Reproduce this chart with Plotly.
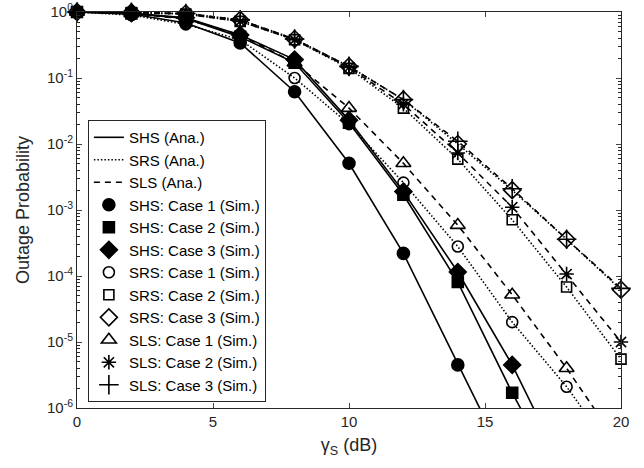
import plotly.graph_objects as go

# ---------------- data ----------------
snr_db = [0, 2, 4, 6, 8, 10, 12, 14, 16, 18, 20]

# SHS scheme (solid)
shs_case1 = [1.0, 0.93, 0.68, 0.34, 0.062, 0.0051, 2.2e-4, 4.5e-6, 1.0e-7, 1.0e-9, 1.0e-11]
shs_case2 = [1.0, 0.95, 0.80, 0.42, 0.17, 0.021, 1.7e-3, 8.1e-5, 1.7e-6, 5.0e-8, 1.0e-9]
shs_case3 = [1.0, 0.96, 0.82, 0.45, 0.19, 0.023, 1.9e-3, 1.15e-4, 4.5e-6, 1.0e-7, 2.0e-9]
# SRS scheme (dotted)
srs_case1 = [1.0, 0.90, 0.65, 0.38, 0.10, 0.020, 2.6e-3, 2.8e-4, 2.0e-5, 2.1e-6, 1.5e-7]
srs_case2 = [1.0, 0.98, 0.93, 0.72, 0.38, 0.14, 0.035, 5.9e-3, 7.1e-4, 6.8e-5, 5.5e-6]
srs_case3 = [1.0, 0.99, 0.95, 0.76, 0.39, 0.15, 0.047, 0.010, 2.0e-3, 3.6e-4, 6.2e-5]
# SLS scheme (dashed)
sls_case1 = [1.0, 0.95, 0.78, 0.45, 0.17, 0.035, 5.1e-3, 5.9e-4, 5.2e-5, 4.0e-6, 2.5e-7]
sls_case2 = [1.0, 0.98, 0.93, 0.72, 0.38, 0.145, 0.040, 7.3e-3, 1.1e-3, 1.07e-4, 1.0e-5]
sls_case3 = [1.0, 0.99, 0.95, 0.76, 0.39, 0.15, 0.047, 0.011, 2.1e-3, 3.6e-4, 6.5e-5]

ana_names = ["SHS (Ana.)", "SRS (Ana.)", "SLS (Ana.)"]
sim_names = ["SHS: Case 1 (Sim.)", "SHS: Case 2 (Sim.)", "SHS: Case 3 (Sim.)",
             "SRS: Case 1 (Sim.)", "SRS: Case 2 (Sim.)", "SRS: Case 3 (Sim.)",
             "SLS: Case 1 (Sim.)", "SLS: Case 2 (Sim.)", "SLS: Case 3 (Sim.)"]
y_tick_vals = [1e-6, 1e-5, 1e-4, 1e-3, 1e-2, 1e-1, 1]
y_tick_text = ["10<sup>-6</sup>", "10<sup>-5</sup>", "10<sup>-4</sup>", "10<sup>-3</sup>",
               "10<sup>-2</sup>", "10<sup>-1</sup>", "10<sup>0</sup>"]
x_tick_vals = [0, 5, 10, 15, 20]

series = [shs_case1, shs_case2, shs_case3,
          srs_case1, srs_case2, srs_case3,
          sls_case1, sls_case2, sls_case3]

# ---------------- styles ----------------
FONT = "Liberation Sans, Arial, Helvetica, sans-serif"
TXT = "#262626"
dash_styles = ["solid", "1.5px,2px", "6px,5px"]
symbols = ["circle", "square", "diamond",
           "circle-open", "square-open", "diamond-open",
           "triangle-up-open", "asterisk-open", "cross-thin-open"]
sizes = [12, 11, 13, 11, 10, 13, 13, 12, 14]

fig = go.Figure()

# analytical curves
for i, ys in enumerate(series):
    g = i // 3
    fig.add_trace(go.Scatter(
        x=snr_db, y=ys, mode="lines",
        line=dict(color="black", width=1.6, dash=dash_styles[g]),
        name=ana_names[g], showlegend=(i % 3 == 0),
        legendgroup="a%d" % g,
    ))

# simulated markers (only those visible in the picture range)
for i, ys in enumerate(series):
    xs = [x for x, v in zip(snr_db, ys) if v >= 1e-6]
    yv = [v for v in ys if v >= 1e-6]
    fig.add_trace(go.Scatter(
        x=xs, y=yv, mode="markers",
        marker=dict(symbol=symbols[i], size=sizes[i], color="black",
                    line=dict(color="black", width=1.6)),
        name=sim_names[i], cliponaxis=False,
        legendgroup="s%d" % i,
    ))

fig.update_layout(
    width=644, height=468,
    margin=dict(l=77, r=23, t=12, b=60, autoexpand=False),
    paper_bgcolor="white", plot_bgcolor="white",
    font=dict(family=FONT, size=15, color=TXT),
    legend=dict(x=0.02, y=0.015, xanchor="left", yanchor="bottom",
                bgcolor="white", bordercolor=TXT, borderwidth=1,
                font=dict(size=15, color="black"), tracegroupgap=2,
                traceorder="normal", itemwidth=30),
)
fig.update_xaxes(
    range=[0, 20], tickvals=x_tick_vals, ticks="inside", ticklen=5,
    showline=True, linecolor=TXT, linewidth=1, mirror="allticks",
    showgrid=False, zeroline=False, automargin=False,
    title=dict(text="γ<sub>S</sub> (dB)", standoff=9),
)
minor_vals = [m * 10.0 ** e for e in range(-6, 0) for m in range(2, 10)]
fig.update_yaxes(
    type="log", range=[-6, 0], tickvals=y_tick_vals, ticktext=y_tick_text,
    ticks="inside", ticklen=5, showline=True, linecolor=TXT, linewidth=1,
    mirror="allticks", showgrid=False, zeroline=False, automargin=False,
    minor=dict(ticks="inside", ticklen=3, tickvals=minor_vals, tickcolor=TXT),
    title=dict(text="Outage Probability", standoff=12),
)

fig.write_html("out.html", config={"displayModeBar": False},
               post_script="document.body.style.margin='0';document.body.style.padding='0';")
